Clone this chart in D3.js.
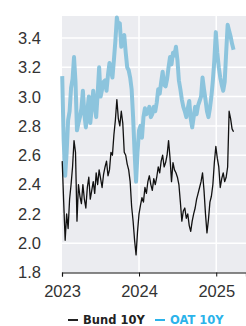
<!DOCTYPE html>
<html>
<head>
<meta charset="utf-8">
<script src="https://cdn.jsdelivr.net/npm/d3@7"></script>
<style>
  body { margin: 0; background: #fff; }
  svg { display: block; }
</style>
</head>
<body>
<div id="chart"></div>
<script>
// weekly closes, first week starting 2 Jan 2023
const firstWeek = "2023-01-02";

const bund10y = [
  2.56, 2.28, 2.02, 2.20, 2.10, 2.30, 2.40, 2.52, 2.70, 2.62,
  2.15, 2.40, 2.32, 2.27, 2.40, 2.30, 2.24, 2.38, 2.45, 2.30,
  2.36, 2.42, 2.34, 2.48, 2.40, 2.50, 2.44, 2.38, 2.47, 2.52,
  2.56, 2.46, 2.50, 2.62, 2.60, 2.74, 2.84, 2.98, 2.85, 2.80,
  2.90, 2.82, 2.62, 2.60, 2.54, 2.50, 2.42, 2.25, 2.15, 2.02,
  1.92, 2.08, 2.20, 2.26, 2.31, 2.28, 2.38, 2.34, 2.42, 2.46,
  2.40, 2.36, 2.44, 2.40, 2.45, 2.52, 2.48, 2.56, 2.60, 2.52,
  2.55, 2.60, 2.70, 2.58, 2.42, 2.55, 2.50, 2.48, 2.45, 2.40,
  2.28, 2.15, 2.22, 2.24, 2.17, 2.20, 2.12, 2.08, 2.15, 2.20,
  2.24, 2.30, 2.34, 2.38, 2.42, 2.48, 2.36, 2.20, 2.07, 2.16,
  2.28, 2.32, 2.40, 2.55, 2.66, 2.58, 2.52, 2.38, 2.44, 2.48,
  2.42, 2.45, 2.52, 2.90, 2.85, 2.78, 2.76
];

const oat10y = [
  3.14, 2.70, 2.46, 2.62, 2.84, 2.90, 3.06, 3.12, 3.27, 3.10,
  2.77, 2.82, 2.86, 2.92, 3.04, 2.88, 2.79, 2.90, 3.00, 2.82,
  2.92, 3.04, 2.95, 2.86, 3.02, 3.20, 3.00, 3.05, 3.10, 3.11,
  3.04, 3.15, 3.23, 3.18, 3.13, 3.25, 3.38, 3.54, 3.48, 3.50,
  3.34, 3.40, 3.42, 3.30, 3.20, 3.18, 3.13, 3.05, 2.86, 2.62,
  2.42, 2.62, 2.77, 2.80, 2.72, 2.86, 2.92, 2.88, 2.90, 2.93,
  2.86, 2.88, 2.93, 2.90, 2.96, 3.05, 3.02, 3.10, 3.17, 3.08,
  3.07, 3.12, 3.20, 3.27, 3.22, 3.30, 3.28, 3.34, 3.25, 3.11,
  3.05, 2.98, 2.93, 2.90, 2.86, 2.92, 2.97, 2.85, 2.79, 2.86,
  2.93, 2.88, 2.94, 2.97, 3.00, 3.13, 3.05, 2.98, 2.90, 2.86,
  2.92, 3.00, 3.11, 3.25, 3.44, 3.30, 3.20, 3.13, 3.08, 3.04,
  3.10, 3.30, 3.49, 3.45, 3.41, 3.36, 3.32
];

const yTicks = [1.8, 2.0, 2.2, 2.4, 2.6, 2.8, 3.0, 3.2, 3.4];
const xYears = [2023, 2024, 2025];
const seriesNames = ["Bund 10Y", "OAT 10Y"];

const width = 246, height = 326;
const plot = { left: 62, right: 246, top: 16, bottom: 272.5 };

const parse = d3.timeParse("%Y-%m-%d");
const start = parse(firstWeek);
const dates = bund10y.map((_, i) => d3.timeDay.offset(start, 7 * i));

const x = d3.scaleTime()
  .domain([new Date(2023, 0, 1), new Date(2025, 4, 22)])
  .range([plot.left, plot.right]);

const y = d3.scaleLinear()
  .domain([1.8, 3.55])
  .range([plot.bottom, plot.top]);

const svg = d3.select("#chart").append("svg")
  .attr("width", width)
  .attr("height", height)
  .attr("viewBox", `0 0 ${width} ${height}`);

// plot background
svg.append("rect")
  .attr("x", plot.left)
  .attr("y", plot.top)
  .attr("width", plot.right - plot.left)
  .attr("height", plot.bottom - plot.top)
  .attr("fill", "#ebecf0");

// grid
svg.append("g")
  .selectAll("line")
  .data(yTicks.slice(1))
  .join("line")
  .attr("x1", plot.left)
  .attr("x2", plot.right)
  .attr("y1", d => y(d))
  .attr("y2", d => y(d))
  .attr("stroke", "#fff")
  .attr("stroke-width", 1.5);

svg.append("g")
  .selectAll("line")
  .data(xYears.slice(1))
  .join("line")
  .attr("x1", d => x(new Date(d, 0, 1)))
  .attr("x2", d => x(new Date(d, 0, 1)))
  .attr("y1", plot.top)
  .attr("y2", plot.bottom)
  .attr("stroke", "#fff")
  .attr("stroke-width", 1.5);

// y labels
svg.append("g")
  .selectAll("text")
  .data(yTicks)
  .join("text")
  .attr("x", 41)
  .attr("y", d => y(d))
  .attr("dy", "0.36em")
  .attr("text-anchor", "end")
  .attr("font-family", "Liberation Sans, Arial, sans-serif")
  .attr("font-size", 16.5)
  .attr("fill", "#333")
  .text(d => d.toFixed(1));

// x axis
const xAxis = d3.axisBottom(x)
  .tickValues(xYears.map(d => new Date(d, 0, 1)))
  .tickFormat(d3.timeFormat("%Y"))
  .tickSizeOuter(0)
  .tickSize(4)
  .tickPadding(9);

const gx = svg.append("g")
  .attr("transform", `translate(0,${plot.bottom})`)
  .call(xAxis);
gx.select(".domain").attr("stroke", "#111").attr("stroke-width", 1.2);
gx.selectAll(".tick line").attr("stroke", "#111");
gx.selectAll(".tick text")
  .attr("font-family", "Liberation Sans, Arial, sans-serif")
  .attr("font-size", 16.5)
  .attr("fill", "#333");

// lines
const line = vals => d3.line()
  .x((_, i) => x(dates[i]))
  .y(d => y(d))(vals);

svg.append("path")
  .attr("d", line(oat10y))
  .attr("fill", "none")
  .attr("stroke", "#8cc4dd")
  .attr("stroke-width", 4)
  .attr("stroke-linejoin", "round");

svg.append("path")
  .attr("d", line(bund10y))
  .attr("fill", "none")
  .attr("stroke", "#111")
  .attr("stroke-width", 1.3)
  .attr("stroke-linejoin", "round");

// legend
const legendColors = ["#222", "#2bb3ea"];
const legendX = [68, 155];
const legend = svg.append("g")
  .selectAll("g")
  .data(seriesNames)
  .join("g")
  .attr("transform", (d, i) => `translate(${legendX[i]},320)`);

legend.append("line")
  .attr("x1", 0).attr("x2", 10)
  .attr("y1", 0).attr("y2", 0)
  .attr("stroke", (d, i) => legendColors[i])
  .attr("stroke-width", 2);

legend.append("text")
  .attr("x", 15)
  .attr("y", 4)
  .attr("font-family", "DejaVu Sans, sans-serif")
  .attr("font-weight", "bold")
  .attr("font-size", 11.5)
  .attr("fill", (d, i) => legendColors[i])
  .text(d => d);
</script>
</body>
</html>
